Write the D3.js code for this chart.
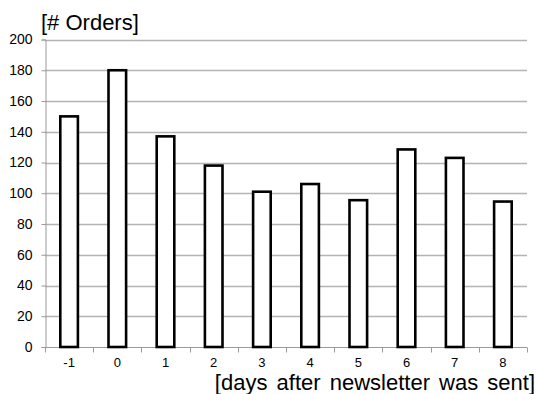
<!DOCTYPE html>
<html>
<head>
<meta charset="utf-8">
<script src="https://cdn.jsdelivr.net/npm/d3@7"></script>
<style>
  html, body { margin: 0; padding: 0; background: #fff; }
  svg { display: block; font-family: "Liberation Sans", Arial, sans-serif; }
</style>
</head>
<body>
<svg id="chart" width="539" height="394"></svg>
<script>
// Orders per day relative to the newsletter send date
const days = ["-1", "0", "1", "2", "3", "4", "5", "6", "7", "8"];
const orders = [150, 180, 137, 118, 101, 106, 95.5, 128.5, 123, 94.6];
const yTicks = [0, 20, 40, 60, 80, 100, 120, 140, 160, 180, 200];

const svg = d3.select("#chart");
const plot = { left: 45, right: 527, top: 39.5, bottom: 347 };

const x = d3.scaleBand().domain(days).range([plot.left, plot.right]);
const y = d3.scaleLinear().domain([0, 200]).range([plot.bottom, plot.top]);

// horizontal gridlines
svg.append("g")
  .selectAll("line")
  .data(yTicks.filter(t => t > 0))
  .join("line")
  .attr("x1", plot.left).attr("x2", plot.right)
  .attr("y1", d => Math.round(y(d)) + 0.5).attr("y2", d => Math.round(y(d)) + 0.5)
  .attr("stroke", "#b4b4b4").attr("stroke-width", 1.3);

// y axis
const yAxis = svg.append("g")
  .attr("transform", `translate(${plot.left + 0.5},0)`)
  .call(d3.axisLeft(y).tickValues(yTicks).tickSize(4).tickPadding(9).tickFormat(d3.format("d")));
yAxis.select(".domain").attr("stroke", "#9a9a9a");
yAxis.selectAll(".tick line").attr("stroke", "#9a9a9a");
yAxis.selectAll(".tick text")
  .attr("font-size", 14).attr("fill", "#000")
  .attr("font-family", "Liberation Sans, Arial, sans-serif");

// x axis with ticks on category boundaries
const xAxisG = svg.append("g").attr("transform", `translate(0,${Math.round(plot.bottom) + 0.5})`);
xAxisG.append("line")
  .attr("x1", plot.left).attr("x2", plot.right)
  .attr("stroke", "#9a9a9a").attr("stroke-width", 1);
const bounds = days.map(d => x(d)).concat([x(days[days.length - 1]) + x.bandwidth()]);
xAxisG.selectAll("line.tk")
  .data(bounds)
  .join("line")
  .attr("class", "tk")
  .attr("x1", d => Math.round(d) + 0.5).attr("x2", d => Math.round(d) + 0.5)
  .attr("y1", 0).attr("y2", 5)
  .attr("stroke", "#9a9a9a");
xAxisG.selectAll("text")
  .data(days)
  .join("text")
  .attr("x", d => x(d) + x.bandwidth() / 2)
  .attr("y", 19.5)
  .attr("text-anchor", "middle")
  .attr("font-size", 13)
  .text(d => d);

// bars
const barW = x.bandwidth() * 0.365;
svg.append("g")
  .selectAll("rect")
  .data(days.map((d, i) => ({ day: d, value: orders[i] })))
  .join("rect")
  .attr("x", d => x(d.day) + (x.bandwidth() - barW) / 2)
  .attr("y", d => y(d.value))
  .attr("width", barW)
  .attr("height", d => y(0) - y(d.value))
  .attr("fill", "#fff")
  .attr("stroke", "#000")
  .attr("stroke-width", 2.6);

// axis titles
svg.append("text")
  .attr("x", 41).attr("y", 30)
  .attr("font-size", 22)
  .text("[# Orders]");

svg.append("text")
  .attr("x", 535).attr("y", 389.5)
  .attr("text-anchor", "end")
  .attr("font-size", 22)
  .attr("word-spacing", 3)
  .text("[days after newsletter was sent]");
</script>
</body>
</html>
